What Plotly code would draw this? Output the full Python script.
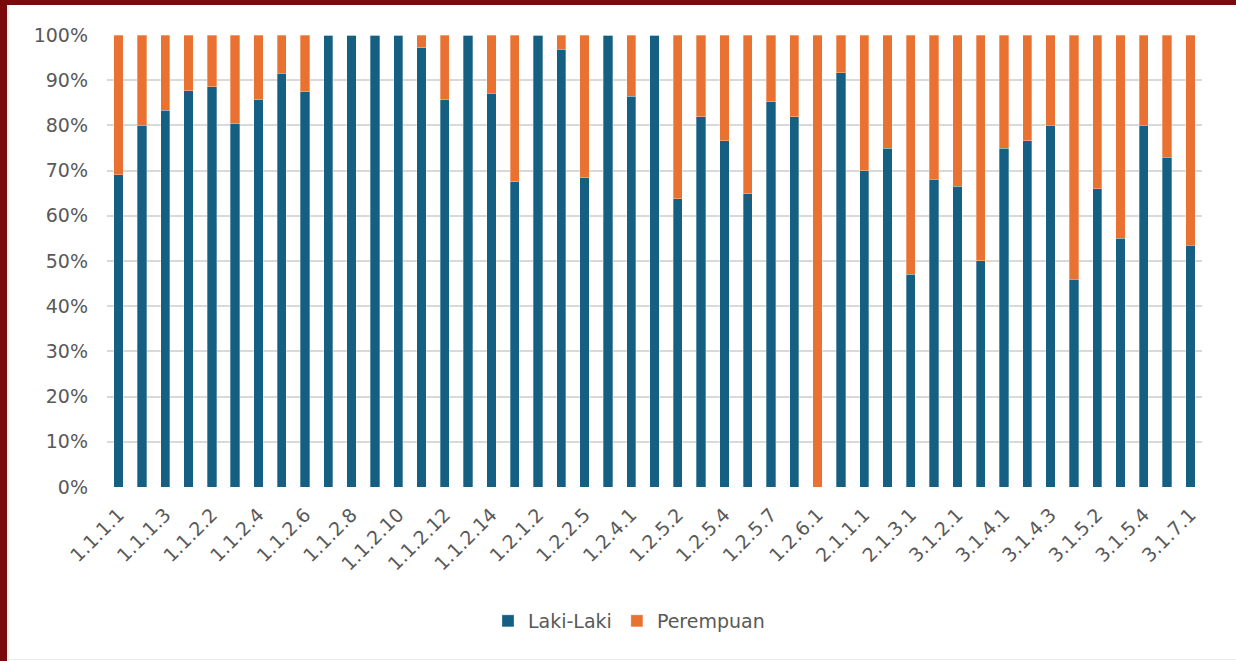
import plotly.graph_objects as go

categories = [
    "1.1.1.1", "1.1.1.2", "1.1.1.3", "1.1.2.1", "1.1.2.2", "1.1.2.3", "1.1.2.4", "1.1.2.5",
    "1.1.2.6", "1.1.2.7", "1.1.2.8", "1.1.2.9", "1.1.2.10", "1.1.2.11", "1.1.2.12", "1.1.2.13",
    "1.1.2.14", "1.2.1.1", "1.2.1.2", "1.2.2.1", "1.2.2.5", "1.2.3.1", "1.2.4.1", "1.2.5.1",
    "1.2.5.2", "1.2.5.3", "1.2.5.4", "1.2.5.5", "1.2.5.7", "1.2.5.8", "1.2.6.1", "1.2.6.2",
    "2.1.1.1", "2.1.2.1", "2.1.3.1", "3.1.1.1", "3.1.2.1", "3.1.3.1", "3.1.4.1", "3.1.4.2",
    "3.1.4.3", "3.1.5.1", "3.1.5.2", "3.1.5.3", "3.1.5.4", "3.1.6.1", "3.1.7.1",
]

laki_laki = [
    69.1, 80.0, 83.4, 87.7, 88.6, 80.4, 85.7, 91.5,
    87.4, 100, 100, 100, 100, 97.2, 85.7, 100,
    87.1, 67.5, 100, 96.8, 68.4, 100, 86.5, 100,
    63.8, 81.9, 76.6, 64.9, 85.2, 81.9, 0, 91.7,
    70.0, 74.9, 47.1, 68.1, 66.5, 50.1, 74.9, 76.6,
    80.0, 46.0, 66.0, 55.0, 80.0, 73.0, 53.5,
]

perempuan = [
    30.9, 20.0, 16.6, 12.3, 11.4, 19.6, 14.3, 8.5,
    12.6, 0, 0, 0, 0, 2.8, 14.3, 0,
    12.9, 32.5, 0, 3.2, 31.6, 0, 13.5, 0,
    36.2, 18.1, 23.4, 35.1, 14.8, 18.1, 100, 8.3,
    30.0, 25.1, 52.9, 31.9, 33.5, 49.9, 25.1, 23.4,
    20.0, 54.0, 34.0, 45.0, 20.0, 27.0, 46.5,
]

tick_labels = [
    "1.1.1.1", "1.1.1.3", "1.1.2.2", "1.1.2.4", "1.1.2.6", "1.1.2.8", "1.1.2.10", "1.1.2.12",
    "1.1.2.14", "1.2.1.2", "1.2.2.5", "1.2.4.1", "1.2.5.2", "1.2.5.4", "1.2.5.7", "1.2.6.1",
    "2.1.1.1", "2.1.3.1", "3.1.2.1", "3.1.4.1", "3.1.4.3", "3.1.5.2", "3.1.5.4", "3.1.7.1",
]

BLUE = "#156082"
ORANGE = "#E97132"
FRAME_RED = "#7A0A0C"
FONT = "DejaVu Sans"
GRAY_TEXT = "#595959"

W, H = 1236, 661
ML, MR, MT, MB = 107, 34, 35, 174
PW, PH = W - ML - MR, H - MT - MB


def px_x(x):
    return (x - ML) / PW


def px_y(y):
    return (H - MB - y) / PH


fig = go.Figure()
fig.add_trace(go.Bar(
    x=categories, y=laki_laki, name="Laki-Laki",
    marker=dict(color=BLUE, line=dict(color="rgba(255,255,255,0.5)", width=0.6)),
))
fig.add_trace(go.Bar(
    x=categories, y=perempuan, name="Perempuan",
    marker=dict(color=ORANGE, line=dict(color="rgba(255,255,255,0.5)", width=0.6)),
))

fig.update_layout(
    barmode="stack",
    bargap=0.6,
    width=W, height=H,
    margin=dict(l=ML, r=MR, t=MT, b=MB, pad=0),
    paper_bgcolor="white",
    plot_bgcolor="white",
    font=dict(family=FONT, size=19, color=GRAY_TEXT),
    showlegend=True,
    legend=dict(
        orientation="h", x=px_x(629), y=px_y(621), xanchor="center", yanchor="middle",
        font=dict(family=FONT, size=19, color=GRAY_TEXT),
        itemwidth=30, traceorder="normal", bgcolor="rgba(0,0,0,0)",
    ),
    xaxis=dict(
        type="category",
        categoryorder="array", categoryarray=categories,
        tickmode="array", tickvals=tick_labels, ticktext=tick_labels,
        tickangle=-45,
        tickfont=dict(family=FONT, size=19, color=GRAY_TEXT),
        showgrid=False, showline=False, zeroline=False, ticks="",
        ticklabelstandoff=12,
    ),
    yaxis=dict(
        range=[0, 100],
        tickmode="array", tickvals=list(range(0, 101, 10)),
        ticktext=[f"{v}%" for v in range(0, 101, 10)],
        tickfont=dict(family=FONT, size=19, color=GRAY_TEXT),
        showgrid=True, gridcolor="#D9D9D9", gridwidth=1.5,
        zeroline=False, showline=False, ticks="", ticklabelstandoff=18,
    ),
    shapes=[
        # dark red frame strips (left and top)
        dict(type="rect", xref="paper", yref="paper",
             x0=px_x(-5), x1=px_x(7), y0=px_y(H + 5), y1=px_y(-5),
             fillcolor=FRAME_RED, line=dict(width=0), layer="above"),
        dict(type="rect", xref="paper", yref="paper",
             x0=px_x(-5), x1=px_x(W + 5), y0=px_y(5), y1=px_y(-5),
             fillcolor=FRAME_RED, line=dict(width=0), layer="above"),
        # faint inner border lines
        dict(type="line", xref="paper", yref="paper",
             x0=px_x(8), x1=px_x(8), y0=px_y(5), y1=px_y(H),
             line=dict(color="#E6E6E6", width=1), layer="above"),
        dict(type="line", xref="paper", yref="paper",
             x0=px_x(7), x1=px_x(W), y0=px_y(659.5), y1=px_y(659.5),
             line=dict(color="#EBEBEB", width=1), layer="above"),
    ],
)

fig.write_html(
    "out.html",
    config={"displayModeBar": False},
    post_script="document.body.style.margin='0';document.body.style.overflow='hidden';",
)
